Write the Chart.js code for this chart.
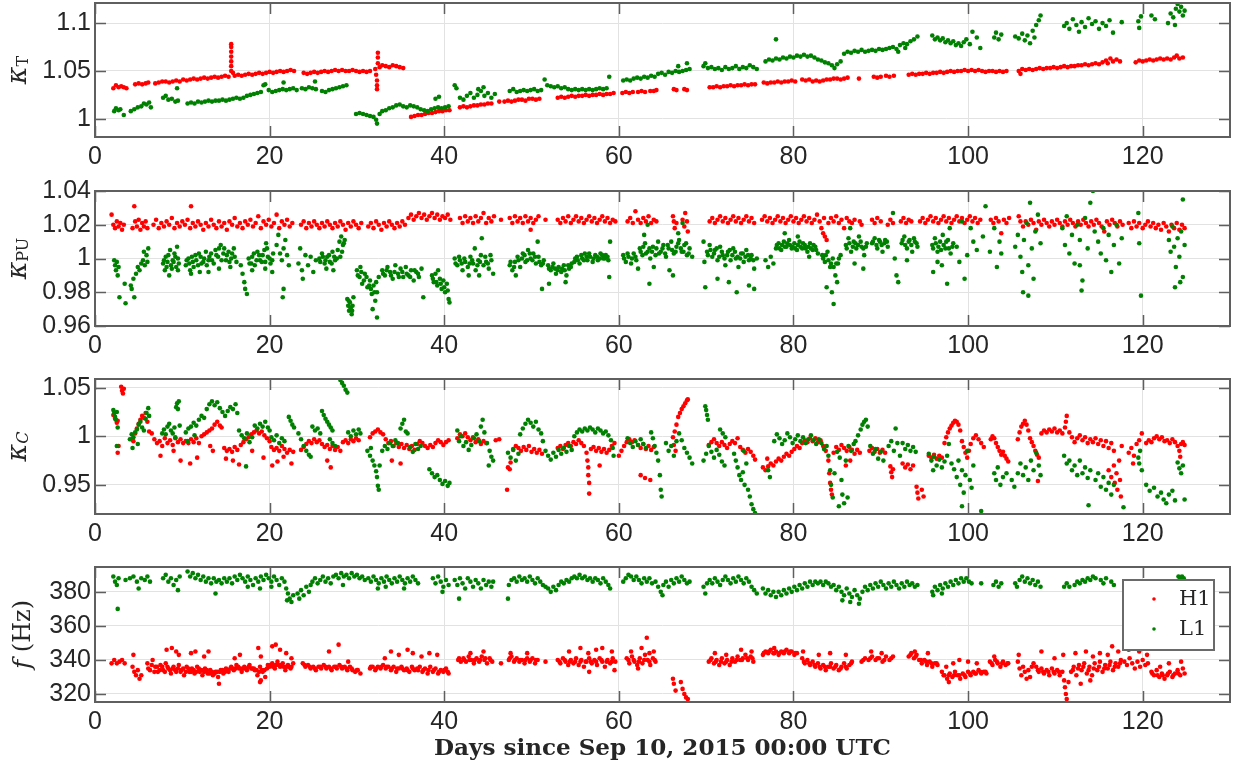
<!DOCTYPE html>
<html><head><meta charset="utf-8">
<script src="https://cdn.jsdelivr.net/npm/chart.js@4.4.1/dist/chart.umd.min.js"></script>
<style>
html,body{margin:0;padding:0;background:#fff;}
#wrap{position:relative;width:1239px;height:765px;overflow:hidden;background:#fff;}
canvas{position:absolute;left:0;}
</style></head><body>
<div id="wrap">
<canvas id="c1" width="1239" height="180" style="top:0px"></canvas>
<canvas id="c2" width="1239" height="190" style="top:180px"></canvas>
<canvas id="c3" width="1239" height="185" style="top:370px"></canvas>
<canvas id="c4" width="1239" height="210" style="top:555px"></canvas>
</div>
<script>
// ---------------- DATA ----------------
const seriesNames = ['H1', 'L1'];
const xTickVals = [0, 20, 40, 60, 80, 100, 120];
const xTickLabels = ['0', '20', '40', '60', '80', '100', '120'];
const X_TITLE = 'Days since Sep 10, 2015 00:00 UTC';

const kT_ticks = [1, 1.05, 1.1];
const kT_labels = ['1', '1.05', '1.1'];
const kPU_ticks = [0.96, 0.98, 1, 1.02, 1.04];
const kPU_labels = ['0.96', '0.98', '1', '1.02', '1.04'];
const kC_ticks = [0.95, 1, 1.05];
const kC_labels = ['0.95', '1', '1.05'];
const f_ticks = [320, 340, 360, 380];
const f_labels = ['320', '340', '360', '380'];

// kappa_T, H1 (red)
const kT_H1 = [
[2.1,1.032],[2.4,1.035],[2.7,1.033],[3.0,1.034],[3.3,1.033],[3.6,1.032],
[4.6,1.036],[5.0,1.037],[5.4,1.036],[5.8,1.037],[6.1,1.038],
[6.9,1.037],[7.3,1.038],[7.7,1.039],[8.1,1.039],[8.5,1.038],[8.9,1.039],[9.3,1.040],[9.7,1.039],
[10.1,1.041],[10.5,1.040],[10.9,1.041],[11.3,1.042],[11.7,1.041],[12.1,1.042],[12.5,1.043],[12.9,1.042],[13.3,1.043],[13.7,1.044],[14.1,1.043],[14.5,1.044],[14.9,1.045],[15.3,1.044],
[15.6,1.050],[15.6,1.055],[15.6,1.060],[15.6,1.065],[15.6,1.070],[15.6,1.075],[15.6,1.078],[15.8,1.048],
[16.0,1.045],[16.4,1.046],[16.8,1.045],[17.2,1.046],[17.6,1.047],[18.0,1.046],[18.4,1.047],[18.8,1.048],[19.2,1.047],[19.6,1.048],[20.0,1.049],
[20.4,1.048],[20.8,1.049],[21.2,1.050],[21.6,1.049],[22.0,1.050],[22.4,1.051],[22.8,1.050],
[23.9,1.048],[24.3,1.047],[24.7,1.048],[25.1,1.049],[25.5,1.048],[25.9,1.049],[26.3,1.050],[26.7,1.049],[27.1,1.050],[27.5,1.051],
[27.9,1.050],[28.3,1.051],[28.7,1.050],[29.1,1.050],[29.5,1.051],[29.9,1.050],[30.3,1.049],[30.7,1.050],[31.1,1.049],[31.5,1.050],
[32.2,1.046],[32.3,1.040],[32.3,1.035],[32.3,1.031],[32.4,1.058],[32.4,1.064],[32.4,1.069],[32.1,1.052],[32.6,1.054],
[32.9,1.056],[33.3,1.055],[33.7,1.054],[34.1,1.056],[34.5,1.055],[34.9,1.054],[35.3,1.053],
[36.2,1.002],[36.6,1.003],[37.0,1.004],[37.4,1.004],[37.8,1.005],[38.2,1.006],[38.6,1.006],[39.0,1.007],[39.4,1.008],[39.8,1.008],[40.2,1.009],[40.6,1.009],
[41.8,1.012],[42.2,1.013],[42.6,1.012],[43.0,1.013],[43.4,1.014],[43.8,1.014],[44.2,1.015],[44.6,1.015],[45.0,1.016],[45.4,1.016],[46.3,1.018],
[46.9,1.018],[47.3,1.019],[47.7,1.018],[48.1,1.019],[48.5,1.020],[48.9,1.020],[49.3,1.019],[49.7,1.021],[50.1,1.021],[50.5,1.020],[50.9,1.021],
[53.0,1.022],[53.4,1.023],[53.8,1.022],[54.2,1.023],[54.6,1.024],[55.0,1.023],[55.4,1.024],[55.8,1.024],[56.2,1.025],[56.6,1.024],[57.0,1.025],[57.4,1.025],[57.8,1.026],[58.2,1.025],[58.6,1.026],[59.0,1.026],[59.4,1.027],
[60.4,1.027],[60.8,1.028],[61.2,1.027],[61.6,1.028],[62.2,1.028],[62.6,1.029],[63.0,1.028],[63.6,1.029],[64.0,1.029],[64.3,1.030],
[66.3,1.031],[66.6,1.030],[67.5,1.031],[67.8,1.030],
[70.4,1.033],[70.8,1.033],[71.2,1.034],[71.6,1.033],[72.0,1.034],[72.4,1.034],[72.8,1.035],[73.2,1.034],[73.6,1.035],[74.0,1.035],[74.4,1.036],[74.8,1.035],[75.2,1.036],[75.6,1.036],
[76.6,1.038],[77.0,1.037],[77.4,1.038],[77.8,1.038],[78.2,1.039],[78.6,1.038],[79.0,1.039],[79.4,1.039],[79.8,1.040],[80.2,1.039],
[81.0,1.041],[81.4,1.040],[81.8,1.041],[82.2,1.039],[82.6,1.040],[83.0,1.039],[83.4,1.040],[83.8,1.041],[84.2,1.041],[84.6,1.042],[85.0,1.042],[85.4,1.041],[85.8,1.042],[86.2,1.043],[87.5,1.042],
[89.2,1.044],[89.6,1.043],[90.0,1.044],[90.6,1.045],[91.0,1.044],[91.5,1.045],
[93.2,1.046],[93.6,1.047],[94.0,1.046],[94.4,1.047],[94.8,1.047],[95.2,1.048],[95.6,1.047],[96.0,1.048],[96.4,1.048],[96.8,1.049],[97.2,1.048],[97.6,1.049],[98.0,1.050],[98.4,1.049],[98.8,1.050],[99.2,1.050],[99.6,1.051],[100.0,1.050],[100.4,1.051],[100.8,1.050],[101.2,1.051],[101.6,1.050],[102.0,1.049],[102.4,1.050],[102.8,1.050],[103.2,1.049],[103.6,1.050],[104.0,1.049],[104.4,1.050],
[105.8,1.050],[106.0,1.047],[106.2,1.052],[106.6,1.051],[107.0,1.052],[107.4,1.051],[107.8,1.052],[108.2,1.053],[108.6,1.052],[109.0,1.053],[109.4,1.053],[109.8,1.054],[110.2,1.053],[110.6,1.054],[111.0,1.055],[111.4,1.054],[111.8,1.055],[112.2,1.055],[112.6,1.056],[113.0,1.056],[113.4,1.057],[113.8,1.056],[114.2,1.057],[114.6,1.058],[115.0,1.057],
[115.4,1.059],[115.8,1.061],[116.0,1.058],[116.3,1.063],[116.6,1.060],[117.0,1.062],[117.4,1.060],
[119.2,1.059],[119.6,1.061],[120.0,1.060],[120.4,1.061],[120.8,1.062],[121.2,1.061],[121.6,1.062],[122.0,1.063],[122.4,1.062],[122.8,1.063],[123.2,1.062],[123.6,1.064],[123.9,1.066],[124.2,1.063],[124.6,1.064]
];

// kappa_T, L1 (green)
const kT_L1 = [
[2.2,1.008],[2.4,1.011],[2.7,1.009],[2.9,1.010],[3.3,1.004],
[4.1,1.008],[4.5,1.010],[4.9,1.012],[5.3,1.013],[5.6,1.016],[5.9,1.015],[6.2,1.017],[6.4,1.012],
[7.8,1.022],[8.1,1.024],[8.4,1.020],[8.8,1.021],[9.2,1.018],[9.5,1.019],[9.4,1.032],
[10.6,1.016],[11.0,1.017],[11.4,1.016],[11.8,1.018],[12.2,1.017],[12.6,1.018],[13.0,1.019],[13.4,1.018],[13.8,1.019],[14.2,1.019],[14.6,1.020],[15.0,1.019],[15.4,1.020],[15.8,1.021],
[16.2,1.022],[16.6,1.021],[17.0,1.022],[17.4,1.024],[17.8,1.025],[18.2,1.026],[18.6,1.027],[19.0,1.028],[19.3,1.035],[19.5,1.036],
[19.9,1.030],[20.3,1.028],[20.7,1.029],[21.1,1.030],[21.5,1.031],[21.9,1.030],[22.3,1.031],[22.7,1.032],[23.1,1.030],[21.6,1.038],
[23.7,1.032],[24.1,1.031],[24.5,1.033],[24.9,1.032],[25.3,1.031],[25.2,1.039],
[26.0,1.029],[26.4,1.028],[26.8,1.030],[27.2,1.031],[27.6,1.032],[28.0,1.033],[28.4,1.034],[28.8,1.035],
[29.9,1.005],[30.3,1.006],[30.7,1.005],[31.1,1.004],[31.5,1.003],[31.9,1.002],[32.2,0.999],[32.3,0.995],[32.6,1.005],
[32.9,1.008],[33.3,1.009],[33.7,1.011],[34.1,1.012],[34.5,1.014],[34.9,1.015],[35.3,1.013],[35.7,1.012],[36.1,1.014],[36.5,1.013],[36.9,1.012],
[37.3,1.010],[37.7,1.009],[38.1,1.008],[38.5,1.010],[38.9,1.011],[39.3,1.012],[39.7,1.011],[40.1,1.012],[40.5,1.013],[39.0,1.021],[39.4,1.023],
[41.2,1.035],[41.4,1.032],[41.8,1.022],[42.2,1.020],[42.6,1.024],[43.0,1.027],[43.4,1.022],[43.8,1.025],[44.2,1.029],[44.6,1.024],[45.0,1.027],[45.4,1.022],[45.8,1.026],[43.9,1.031],[44.5,1.033],
[47.5,1.029],[47.9,1.031],[48.3,1.028],[48.7,1.029],[49.1,1.030],[49.5,1.029],[49.9,1.030],[50.3,1.031],[50.7,1.029],[51.1,1.030],[51.5,1.041],[51.8,1.035],
[52.2,1.034],[52.6,1.033],[53.0,1.034],[53.4,1.032],[53.8,1.033],[54.2,1.031],[54.6,1.030],[55.0,1.031],[55.4,1.030],[55.8,1.031],[56.2,1.030],[56.6,1.031],[57.0,1.030],[57.4,1.031],[57.8,1.032],[58.2,1.031],[58.6,1.032],[58.9,1.044],
[60.5,1.040],[60.9,1.041],[61.3,1.040],[61.7,1.042],[62.1,1.043],[62.5,1.042],[62.9,1.044],[63.3,1.043],[63.7,1.045],[64.1,1.044],
[64.5,1.047],[64.9,1.048],[65.3,1.046],[65.7,1.049],[66.1,1.048],[66.5,1.050],[66.9,1.049],[67.3,1.050],[67.7,1.051],[68.1,1.052],[67.8,1.058],[66.8,1.055],
[69.7,1.055],[69.9,1.058],[70.2,1.053],[70.6,1.054],[71.0,1.052],[71.4,1.053],[71.8,1.051],[72.2,1.054],[72.6,1.052],[73.0,1.053],[73.4,1.055],[73.8,1.052],[74.2,1.054],[74.6,1.053],[75.0,1.056],[75.4,1.054],[75.8,1.052],
[78.0,1.083],
[76.8,1.060],[77.2,1.062],[77.6,1.061],[78.0,1.063],[78.4,1.062],[78.8,1.064],[79.2,1.063],[79.6,1.065],[80.0,1.064],[80.4,1.066],[80.8,1.065],[81.2,1.067],[81.6,1.065],[82.0,1.066],[82.4,1.064],
[82.8,1.062],[83.2,1.061],[83.6,1.059],[84.0,1.058],[84.4,1.056],[84.7,1.053],[85.0,1.057],[85.4,1.060],
[85.8,1.068],[86.2,1.070],[86.6,1.069],[87.0,1.071],[87.4,1.070],[87.8,1.072],[88.2,1.070],[88.6,1.071],[89.0,1.072],[89.4,1.071],[89.8,1.073],[90.2,1.072],[90.6,1.073],[91.0,1.074],[91.4,1.075],[91.8,1.073],[92.2,1.077],[92.6,1.079],[93.0,1.078],[93.4,1.081],[93.8,1.083],[94.2,1.086],[92.0,1.070],[92.8,1.074],
[95.9,1.087],[96.2,1.083],[96.5,1.085],[96.8,1.082],[97.1,1.084],[97.4,1.080],[97.7,1.082],[98.0,1.079],[98.3,1.081],[98.6,1.077],[98.9,1.079],[99.2,1.076],[99.5,1.080],[99.8,1.083],[100.2,1.078],[100.5,1.091],[101.0,1.085],[101.4,1.074],
[103.0,1.085],[103.2,1.090],[103.5,1.083],[103.8,1.088],[105.4,1.086],[105.8,1.084],[106.2,1.089],[106.5,1.082],[106.8,1.087],[107.1,1.079],[107.4,1.092],[107.8,1.098],[108.1,1.103],[108.3,1.108],[107.6,1.085],
[111.0,1.097],[111.3,1.100],[111.6,1.094],[112.0,1.104],[112.4,1.098],[112.7,1.091],[113.0,1.101],[113.4,1.096],[113.8,1.105],[114.2,1.099],[114.6,1.102],[115.0,1.094],[115.4,1.100],[115.8,1.097],[116.2,1.103],[116.6,1.090],[117.6,1.101],
[119.5,1.102],[119.6,1.095],[119.8,1.107],[121.0,1.108],[121.4,1.104],[122.9,1.100],[123.2,1.110],[123.5,1.106],[123.8,1.115],[124.0,1.120],[124.2,1.112],[124.4,1.117],[124.6,1.108],[124.8,1.113],[123.7,1.098]
];

// kappa_PU, H1 (red)
const kPU_H1 = [
[1.9,1.026],[2.1,1.020],[2.3,1.018],[2.5,1.022],[2.7,1.019],[2.9,1.021],[3.1,1.017],[3.3,1.020],
[4.3,1.018],[4.5,1.031],[4.6,1.022],[4.8,1.019],[5.0,1.023],[5.2,1.017],[5.4,1.021],[5.6,1.019],[5.8,1.022],[6.0,1.018],
[6.7,1.020],[7.0,1.023],[7.3,1.018],[7.6,1.021],[7.9,1.019],[8.2,1.022],[8.5,1.020],[8.8,1.024],[9.1,1.018],[9.4,1.021],[9.7,1.019],[10.0,1.022],[10.3,1.020],[10.6,1.023],[10.9,1.018],[11.0,1.031],[11.2,1.021],[11.5,1.019],[11.8,1.022],[12.1,1.020],[12.4,1.017],[12.7,1.021],[13.0,1.019],[13.3,1.023],[13.6,1.020],[13.9,1.018],[14.2,1.022],[14.5,1.019],[14.8,1.021],[15.1,1.017],[15.4,1.022],[15.7,1.020],[16.0,1.024],[16.3,1.019],[16.6,1.021],[16.9,1.018],[17.2,1.022],[17.5,1.020],[17.8,1.023],[18.1,1.019],[18.4,1.021],[18.7,1.025],[19.0,1.018],[19.3,1.022],[19.6,1.020],[19.9,1.023],[20.2,1.019],[20.5,1.021],[20.8,1.026],[21.1,1.018],[21.4,1.022],[21.7,1.020],[22.0,1.023],[22.3,1.019],[22.6,1.021],
[23.6,1.020],[23.9,1.022],[24.2,1.018],[24.5,1.021],[24.8,1.019],[25.1,1.022],[25.4,1.020],[25.7,1.018],[26.0,1.021],[26.3,1.019],[26.6,1.022],[26.9,1.020],[27.2,1.018],[27.5,1.021],[27.8,1.019],[28.1,1.022],[28.4,1.020],[28.7,1.017],[29.0,1.021],[29.3,1.019],[29.6,1.022],[29.9,1.020],[30.2,1.018],[30.5,1.021],[31.3,1.019],[31.6,1.021],[31.9,1.018],[32.2,1.022],[32.5,1.020],[32.8,1.017],[33.1,1.021],[33.4,1.019],[33.7,1.022],[34.0,1.020],[34.3,1.018],[34.6,1.021],[34.9,1.019],[35.2,1.022],[35.5,1.020],
[35.9,1.024],[36.2,1.026],[36.5,1.023],[36.8,1.025],[37.1,1.027],[37.4,1.024],[37.7,1.026],[38.0,1.023],[38.3,1.025],[38.6,1.027],[38.9,1.024],[39.2,1.026],[39.5,1.023],[39.8,1.025],[40.1,1.024],[40.4,1.026],[40.7,1.023],
[41.8,1.024],[42.1,1.021],[42.4,1.025],[42.7,1.022],[43.0,1.024],[43.3,1.021],[43.6,1.025],[43.9,1.022],[44.2,1.024],[44.5,1.027],[44.8,1.021],[45.1,1.024],[45.4,1.022],[45.7,1.025],[46.5,1.023],
[47.5,1.024],[47.8,1.021],[48.1,1.025],[48.4,1.022],[48.7,1.024],[49.0,1.021],[49.3,1.025],[49.6,1.022],[49.9,1.024],[50.2,1.021],[50.5,1.023],[50.8,1.025],[49.9,1.017],[51.6,1.023],
[53.0,1.023],[53.3,1.021],[53.6,1.024],[53.9,1.022],[54.2,1.025],[54.5,1.021],[54.8,1.023],[55.1,1.025],[55.4,1.022],[55.7,1.024],[56.0,1.021],[56.3,1.023],[56.6,1.025],[56.9,1.022],[57.2,1.024],[57.5,1.021],[57.8,1.023],[58.1,1.025],[58.4,1.022],[58.7,1.024],[59.0,1.021],[59.3,1.023],[59.6,1.022],
[61.0,1.022],[61.3,1.024],[61.6,1.021],[61.9,1.028],[62.2,1.023],[62.5,1.021],[62.8,1.024],[63.1,1.022],[63.4,1.025],[63.7,1.021],[64.0,1.023],[64.3,1.022],
[66.2,1.025],[66.3,1.022],[66.4,1.018],[66.6,1.021],[67.3,1.023],[67.5,1.019],[67.6,1.027],[67.8,1.022],[67.9,1.016],
[70.4,1.022],[70.7,1.024],[71.0,1.021],[71.3,1.023],[71.6,1.025],[71.9,1.022],[72.2,1.024],[72.5,1.021],[72.8,1.023],[73.1,1.025],[73.4,1.022],[73.7,1.024],[74.0,1.021],[74.3,1.023],[74.6,1.025],[74.9,1.022],[75.2,1.024],[75.5,1.021],[76.4,1.023],[76.7,1.025],[77.0,1.022],[77.3,1.024],[77.6,1.021],[77.9,1.023],[78.2,1.025],[78.5,1.022],[78.8,1.024],[79.1,1.021],[79.4,1.023],[79.7,1.025],[80.0,1.022],[80.3,1.024],[80.6,1.021],[80.9,1.023],[81.2,1.025],[81.5,1.022],[81.8,1.024],[82.1,1.021],[82.4,1.023],
[82.7,1.026],[83.0,1.022],[83.2,1.018],[83.4,1.015],[83.6,1.013],[83.8,1.011],[83.5,1.024],[84.0,1.021],[84.3,1.024],[84.6,1.022],[84.9,1.025],[85.2,1.021],[85.5,1.023],[85.8,1.018],[86.1,1.024],[86.4,1.022],[86.7,1.021],[87.0,1.023],[87.6,1.022],[87.8,1.020],
[89.0,1.023],[89.3,1.021],[89.6,1.024],[90.0,1.022],[90.8,1.020],[91.1,1.023],[91.4,1.021],[92.3,1.022],[92.6,1.024],[92.9,1.021],[93.2,1.023],[93.5,1.022],
[94.5,1.022],[94.8,1.024],[95.1,1.021],[95.4,1.023],[95.7,1.025],[96.0,1.022],[96.3,1.024],[96.6,1.021],[96.9,1.023],[97.2,1.025],[97.5,1.022],[97.8,1.024],[98.1,1.021],[98.4,1.023],[98.7,1.025],[99.0,1.022],[99.3,1.024],[99.6,1.021],[99.9,1.023],[100.2,1.025],[100.5,1.022],[100.8,1.024],[101.1,1.021],[101.4,1.023],[102.6,1.023],[102.9,1.021],[103.2,1.024],[103.5,1.022],[103.8,1.015],[104.1,1.023],[104.4,1.021],[104.7,1.024],
[105.8,1.025],[106.0,1.022],[106.3,1.019],[106.6,1.022],[106.9,1.020],[107.2,1.023],[107.5,1.021],[107.8,1.017],[108.1,1.022],[108.4,1.020],[108.7,1.023],[109.0,1.021],[109.3,1.019],[109.6,1.022],[109.9,1.020],[110.2,1.023],[110.5,1.021],[110.8,1.019],[111.1,1.022],[111.4,1.020],[111.7,1.023],[112.0,1.021],[112.3,1.019],[112.6,1.022],[112.9,1.020],[113.2,1.023],[113.5,1.021],[113.8,1.019],[114.1,1.022],[114.4,1.020],[114.7,1.023],[115.0,1.021],[115.3,1.019],[115.6,1.016],[115.9,1.022],[116.2,1.020],[116.5,1.023],[116.8,1.021],[117.1,1.019],[117.4,1.022],[117.7,1.020],
[118.4,1.021],[118.7,1.018],[119.0,1.022],[119.3,1.019],[119.6,1.021],[120.0,1.018],[120.3,1.020],[120.6,1.022],[120.9,1.019],[121.2,1.021],[121.5,1.018],[121.8,1.020],[122.1,1.017],[122.4,1.021],[122.7,1.019],[123.0,1.016],[123.3,1.020],[123.6,1.018],[123.9,1.021],[124.2,1.017],[124.5,1.020],[124.8,1.018]
];

// kappa_PU, L1 (green)
const kPU_L1 = [
[2.2,0.999],[2.3,0.996],[2.4,0.993],[2.5,0.998],[2.6,0.990],[2.7,0.995],[2.8,0.977],[3.5,0.9735],[3.4,0.985],
[4.1,0.984],[4.2,0.982],[4.4,0.988],[4.5,0.977],[4.7,0.991],[4.9,0.995],[5.1,0.993],[5.3,0.997],[5.5,0.999],[5.7,0.996],[5.9,1.002],[6.0,0.998],[6.1,1.006],[5.6,1.004],
[7.8,0.997],[8.0,0.993],[8.1,1.001],[8.3,0.998],[8.5,0.990],[8.7,0.996],[8.9,0.999],[9.1,1.003],[9.3,0.995],[9.5,1.000],[9.6,0.997],[8.6,1.005],[9.4,1.007],
[10.4,0.996],[10.7,1.000],[10.9,0.993],[11.2,0.998],[11.5,1.002],[11.8,0.996],[12.1,1.001],[12.4,0.998],[12.7,1.004],[13.0,0.999],[13.3,1.003],[13.6,0.997],[11.0,0.991],[12.0,0.992],[13.0,0.992],
[13.8,1.005],[14.1,1.001],[14.4,1.008],[14.7,1.003],[15.0,0.999],[15.3,1.004],[15.6,1.000],[15.9,1.006],[16.2,0.998],[14.2,0.994],[15.5,0.995],
[16.7,0.996],[16.9,0.991],[17.1,0.986],[17.2,0.982],[17.4,0.979],
[17.6,1.000],[17.9,0.997],[18.2,1.003],[18.5,0.999],[18.8,1.002],[19.1,0.998],[19.4,1.005],[19.6,1.009],[19.8,1.001],[20.1,0.997],[20.4,1.003],[18.0,0.993],[19.5,0.994],[20.3,0.992],
[20.8,1.008],[21.0,1.014],[21.2,1.003],[21.4,0.999],[21.6,1.006],[21.8,1.011],[22.0,1.002],[22.2,0.996],[21.5,0.977],[21.6,0.982],
[23.3,0.997],[23.5,1.006],[23.7,0.993],[23.8,0.988],
[24.1,1.002],[24.4,0.996],[24.7,1.001],[25.0,0.992],[25.3,0.999],
[25.7,1.000],[26.0,1.003],[26.3,0.997],[26.6,1.001],[26.9,0.998],[27.2,1.004],[27.5,0.999],[26.5,0.994],[27.3,0.993],
[27.8,1.005],[28.0,1.010],[28.2,1.013],[28.4,1.008],[28.6,1.011],[28.1,1.001],
[28.9,0.976],[29.0,0.972],[29.1,0.969],[29.2,0.974],[29.3,0.970],[29.4,0.967],[29.5,0.972],[29.6,0.977],
[30.0,0.993],[30.3,0.989],[30.6,0.985],[30.9,0.991],[31.2,0.983],[31.5,0.987],[31.7,0.979],[31.9,0.984],[32.1,0.975],[32.3,0.980],[32.5,0.989],[31.8,0.970],[32.3,0.965],[30.4,0.995],
[32.9,0.993],[33.2,0.990],[33.5,0.995],[33.8,0.992],[34.1,0.988],[34.4,0.996],[34.7,0.991],[35.0,0.994],[35.3,0.989],[35.6,0.995],[35.9,0.990],[36.2,0.993],[36.5,0.987],[36.8,0.992],[37.1,0.989],[37.4,0.994],[37.6,0.977],
[38.6,0.990],[38.8,0.986],[39.0,0.991],[39.2,0.984],[39.5,0.988],[39.7,0.982],[39.9,0.987],[40.1,0.980],[40.3,0.985],[40.5,0.976],[40.6,0.974],[39.3,0.993],
[41.2,1.000],[41.5,0.996],[41.8,0.999],[42.1,0.993],[42.4,0.998],[42.7,0.995],[43.0,1.001],[43.3,0.997],[43.6,0.993],[43.9,0.999],[44.2,1.002],[44.5,0.996],[44.8,0.998],[45.1,0.994],[45.4,0.999],[45.6,0.991],[44.3,1.012],[43.5,1.006],[42.8,0.990],[44.0,0.990],
[47.5,0.996],[47.8,0.993],[48.1,0.998],[48.4,1.001],[48.7,0.995],[49.0,1.003],[49.3,0.998],[49.6,1.005],[49.9,1.000],[50.2,1.003],[50.5,0.997],[50.8,1.001],[51.1,0.996],[51.4,0.999],[50.7,1.010],[51.2,0.982],[48.2,0.990],
[51.9,0.996],[52.2,0.993],[52.5,0.997],[52.8,0.991],[53.1,0.995],[53.4,0.992],[53.7,0.996],[54.0,0.990],[54.3,0.994],[54.6,0.997],[52.0,0.985],[53.9,0.986],
[54.9,0.998],[55.2,1.001],[55.5,0.997],[55.8,1.000],[56.1,1.003],[56.4,0.999],[56.7,1.001],[57.0,0.998],[57.3,1.002],[57.6,0.999],[57.9,1.003],[58.2,1.000],[58.5,1.002],[58.8,0.999],[59.0,1.010],[58.9,0.989],
[60.5,1.002],[60.8,0.998],[61.1,1.001],[61.4,0.997],[61.7,1.003],[62.0,0.999],[62.2,0.994],
[62.4,1.006],[62.7,1.002],[63.0,1.009],[63.3,1.004],[63.6,1.000],[63.9,1.007],[64.2,1.002],[64.5,1.010],[62.9,1.014],[63.3,1.020],[64.0,0.995],[63.5,0.985],
[64.8,1.004],[65.1,1.008],[65.4,1.001],[65.7,1.006],[66.0,1.010],[66.3,1.003],[66.6,1.007],[66.9,1.011],[67.2,1.004],[67.5,1.008],[67.8,1.002],[68.1,1.006],[68.4,1.001],[67.3,1.021],[66.8,1.015],[65.8,0.993],[66.2,0.990],
[69.7,1.010],[69.8,0.998],[69.9,0.983],[70.1,1.004],[70.4,1.008],[70.7,1.001],[71.0,1.005],[71.3,0.999],[71.6,1.007],[71.9,1.002],[72.2,0.996],[72.5,1.004],[72.8,0.999],[73.1,1.006],[73.4,1.000],[73.7,0.995],[74.0,1.003],[74.3,0.998],[74.6,1.005],[74.9,0.999],[75.2,1.002],[75.5,0.994],[75.8,1.000],[71.3,0.988],[72.6,0.986],[73.5,0.980],[74.9,0.984],[75.5,0.982],
[76.8,0.999],[77.1,0.995],[77.4,1.001],[77.7,0.997],
[78.0,1.006],[78.3,1.009],[78.6,1.005],[78.9,1.010],[79.2,1.007],[79.5,1.011],[79.8,1.006],[80.1,1.009],[80.4,1.005],[80.7,1.010],[81.0,1.006],[81.3,1.008],[81.6,1.004],[81.9,1.009],[82.2,1.005],[82.5,1.007],[82.8,1.003],[79.0,1.015],[80.5,1.013],[81.8,1.001],
[83.3,1.002],[83.6,0.998],[83.9,1.004],[84.2,0.995],[84.5,1.000],[84.8,0.990],[85.1,0.997],[85.4,1.002],[83.8,0.983],[84.4,0.980],[84.6,0.973],[85.0,0.986],
[86.0,1.008],[86.3,1.012],[86.6,1.004],[86.9,1.010],[87.2,1.006],[87.5,1.013],[87.8,1.007],[88.1,1.002],[88.4,1.009],[87.0,0.997],[88.0,0.994],[86.5,1.018],
[89.0,1.009],[89.3,1.012],[89.6,1.006],[89.9,1.010],[90.2,1.004],[90.5,1.011],[90.8,1.007],
[91.4,1.027],[91.6,1.000],[91.8,0.990],[92.0,0.986],
[92.4,1.009],[92.7,1.013],[93.0,1.006],[93.3,1.011],[93.6,1.004],[93.9,1.010],[94.2,1.007],[93.0,0.999],
[95.9,1.008],[96.2,1.012],[96.5,1.004],[96.8,1.010],[97.1,1.014],[97.4,1.006],[97.7,1.011],[98.0,1.003],[98.3,1.009],[96.0,0.992],[97.0,0.996],[97.6,0.985],[96.5,0.998],[97.9,1.018],
[98.7,1.007],[99.0,0.998],[99.3,1.022],[99.6,0.988],[99.9,1.002],[100.3,1.018],[100.6,1.010],[101.0,1.005],
[101.7,1.013],[102.0,1.031],[102.5,1.004],[103.0,1.018],[103.3,0.995],[103.6,1.010],[103.8,1.003],
[105.4,1.007],[105.7,1.014],[106.0,1.001],[106.2,0.992],[106.4,1.011],[106.7,1.021],[106.9,0.996],[107.1,1.033],[107.3,1.006],[107.5,0.988],[107.7,1.016],[108.0,1.026],[108.3,1.009],[108.6,1.041],[106.3,0.980],[106.9,0.978],
[110.8,1.018],[111.1,1.008],[111.3,1.025],[111.6,1.003],[111.9,1.014],[112.2,0.997],[112.5,1.020],[112.8,1.011],[113.1,0.987],[113.4,1.024],[113.7,1.006],[114.0,1.033],[114.3,1.040],[114.5,1.016],[112.8,0.996],[113.0,0.981],
[114.9,1.010],[115.2,1.003],[115.5,1.018],[115.8,0.999],[116.1,1.014],[116.4,0.992],[116.7,1.008],[117.0,1.020],[117.3,0.997],[117.6,1.012],
[119.5,1.027],[119.6,1.009],[119.8,0.978],
[123.0,1.011],[123.2,1.004],[123.4,1.019],[123.6,1.007],[123.8,0.995],[124.0,1.012],[124.2,1.001],[124.4,1.016],[124.6,1.035],[124.8,1.008],[124.3,0.986],[124.6,0.989],[123.7,0.983],
[7.9,0.999],[8.2,0.995],[8.4,1.002],[8.8,0.994],[9.0,0.998],[9.2,1.001],[9.5,0.993],
[10.5,0.999],[10.8,0.997],[11.1,1.001],[11.3,0.995],[11.6,0.999],[11.9,1.003],[12.2,0.997],[12.5,1.000],[12.8,0.996],[13.1,1.001],[13.4,0.999],
[13.9,1.002],[14.2,1.006],[14.5,0.999],[14.8,1.006],[15.1,1.002],[15.4,0.998],[15.7,1.003],[16.0,1.001],
[17.7,0.997],[18.0,1.001],[18.3,0.996],[18.6,1.004],[18.9,0.999],[19.2,1.002],[19.5,0.998],[19.7,1.006],[20.0,1.000],[20.3,0.999],
[25.8,0.998],[26.1,1.001],[26.4,0.999],[26.8,1.002],[27.1,0.997],[27.4,1.001],[27.7,1.000],[28.3,1.004],[28.5,1.009],
[29.05,0.975],[29.25,0.971],[29.45,0.969],
[30.1,0.990],[30.5,0.992],[30.8,0.987],[31.1,0.989],[31.4,0.984],[31.6,0.982],[32.0,0.980],[32.2,0.986],
[33.0,0.991],[33.4,0.993],[33.9,0.990],[34.3,0.992],[34.8,0.989],[35.2,0.992],[35.7,0.991],[36.1,0.989],[36.6,0.993],[37.0,0.991],
[38.7,0.988],[39.1,0.986],[39.6,0.985],[40.0,0.983],[40.4,0.981],
[41.3,0.997],[41.7,1.001],[42.0,0.997],[42.3,1.000],[42.9,0.997],[43.2,0.999],[43.8,0.996],[44.1,0.998],[44.7,1.001],[45.0,0.997],[45.3,1.002],
[47.6,0.998],[48.0,0.995],[48.5,0.999],[48.9,1.000],[49.2,1.002],[49.5,0.999],[49.8,1.003],[50.1,0.999],[50.4,1.001],[50.9,0.998],[51.3,0.997],
[52.0,0.994],[52.4,0.995],[52.7,0.994],[53.0,0.993],[53.5,0.994],[53.8,0.993],[54.2,0.996],[54.5,0.995],
[55.0,1.000],[55.3,0.999],[55.7,1.002],[56.0,0.999],[56.3,1.001],[56.6,1.003],[57.1,1.000],[57.5,1.001],[57.8,1.000],[58.1,1.002],[58.4,1.000],[58.7,1.001],
[60.6,1.000],[61.0,1.003],[61.5,1.000],[61.9,1.001],[62.5,1.004],[62.8,1.007],[63.1,1.003],[63.5,1.006],[63.8,1.004],[64.3,1.006],[64.6,1.003],[65.0,1.006],[65.3,1.003],[65.6,1.008],[66.1,1.005],[66.5,1.004],[66.8,1.009],[67.1,1.006],[67.4,1.004],[67.7,1.009],[68.0,1.003],
[70.2,1.002],[70.5,1.005],[70.9,1.003],[71.2,1.006],[71.5,1.001],[71.8,1.004],[72.1,1.000],[72.4,1.002],[72.7,1.005],[73.0,1.002],[73.3,1.004],[73.6,1.001],[73.9,1.000],[74.2,1.003],[74.5,1.001],[74.8,1.002],[75.1,1.000],[75.4,0.999],
[78.1,1.008],[78.4,1.006],[78.7,1.008],[79.0,1.007],[79.3,1.009],[79.6,1.008],[79.9,1.007],[80.2,1.006],[80.5,1.008],[80.8,1.007],[81.1,1.009],[81.4,1.006],[81.7,1.007],[82.0,1.006],[82.3,1.008],[82.6,1.005],
[83.4,1.000],[83.7,1.002],[84.0,0.999],[84.3,0.997],[84.6,0.995],[84.9,0.997],[85.2,1.000],
[86.1,1.006],[86.4,1.009],[86.8,1.007],[87.1,1.009],[87.4,1.008],[87.7,1.010],[88.0,1.006],[88.3,1.007],
[89.1,1.010],[89.5,1.008],[89.8,1.011],[90.1,1.008],[90.4,1.009],[90.7,1.010],
[92.5,1.011],[92.8,1.008],[93.2,1.010],[93.5,1.008],[93.8,1.012],[94.1,1.009],
[96.0,1.006],[96.3,1.009],[96.6,1.007],[96.9,1.005],[97.2,1.008],[97.5,1.010],[97.8,1.006],[98.2,1.007]
];

// kappa_C, H1 (red)
const kC_H1 = [
[2.1,1.022],[2.3,1.018],[2.5,1.014],[2.6,1.016],[2.7,0.990],[2.6,0.983],
[3.0,1.051],[3.1,1.047],[3.2,1.044],[3.3,1.049],
[4.2,0.997],[4.4,0.995],[4.6,1.003],[4.8,1.008],[5.0,1.013],[5.2,1.017],[5.4,1.021],[5.6,1.019],[5.8,1.024],[6.0,1.015],
[6.2,1.005],[6.5,1.003],[6.8,0.997],[7.1,0.993],[7.4,0.995],[7.7,0.990],[8.0,0.998],[8.3,0.993],[8.6,0.996],[8.9,0.991],[9.2,0.998],[9.5,0.994],[9.8,0.997],[10.1,0.993],[7.5,0.980],[9.0,0.985],[9.8,0.975],
[10.4,0.995],[10.7,0.993],[11.0,0.997],[11.3,0.994],[11.6,0.998],[11.9,0.993],[12.2,1.000],[10.9,0.972],[11.7,0.978],
[12.5,1.002],[12.8,1.004],[13.1,1.006],[13.4,1.008],[13.7,1.012],[14.0,1.015],[14.3,1.011],[14.5,1.009],[13.2,0.990],[13.5,0.985],
[14.8,0.988],[15.1,0.985],[15.4,0.987],[15.7,0.984],[16.0,0.989],[16.3,0.986],[15.0,0.977],[15.8,0.975],[16.5,0.971],
[16.7,0.991],[17.0,0.994],[17.3,0.997],[17.6,0.999],[17.9,1.002],[18.2,1.004],[18.5,1.006],[18.8,1.003],[19.1,1.005],[19.4,1.001],[19.7,0.998],[20.0,0.995],[18.0,0.985],[19.3,0.978],
[20.2,0.989],[20.5,0.986],[20.8,0.988],[21.1,0.985],[21.4,0.990],[21.7,0.987],[22.0,0.983],[22.3,0.986],[22.7,0.984],[20.3,0.970],[20.9,0.974],[21.6,0.979],[22.5,0.972],
[23.6,0.986],[23.9,0.989],[24.2,0.992],[24.5,0.995],[24.8,0.993],[25.1,0.997],[25.4,0.994],[25.7,0.996],
[26.0,0.992],[26.3,0.989],[26.6,0.991],[26.9,0.987],[27.2,0.990],[27.5,0.986],[27.8,0.989],[28.1,0.985],[27.0,0.968],[26.6,0.975],
[28.4,0.994],[28.7,0.996],[29.0,0.993],[29.3,0.997],[29.6,0.995],[29.9,0.998],[30.2,0.996],
[31.5,0.999],[31.8,1.003],[32.1,1.005],[32.4,1.007],[32.7,1.004],[33.0,1.002],
[33.3,0.997],[33.6,0.993],[33.9,0.995],[34.2,0.990],[34.5,0.993],[34.8,0.989],[35.1,0.992],[35.4,0.988],[35.7,0.991],[36.0,0.987],[36.3,0.990],[36.6,0.986],[34.0,0.975],[35.0,0.972],
[36.9,0.992],[37.2,0.995],[37.5,0.993],[37.8,0.990],[38.1,0.988],[38.4,0.991],[38.7,0.989],[39.0,0.993],[39.3,0.996],[39.6,0.994],[39.9,0.991],[40.2,0.994],[40.5,0.996],
[41.5,0.998],[41.8,1.002],[42.1,1.000],[42.4,1.003],[42.7,0.999],[43.0,0.996],[43.3,0.999],[43.6,0.994],[43.9,0.997],[44.2,0.992],[44.5,0.995],[44.8,0.993],
[45.9,0.996],[46.3,0.997],
[47.3,0.968],[47.5,0.966],[47.6,0.973],[47.2,0.945],
[47.9,0.986],[48.2,0.990],[48.5,0.988],[48.8,0.985],[49.1,0.989],[49.4,0.986],[49.7,0.990],[50.0,0.984],[50.3,0.987],[50.6,0.983],[50.9,0.986],[51.2,0.982],
[53.0,0.988],[53.3,0.990],[53.6,0.987],[53.9,0.991],[54.2,0.993],[54.5,0.990],[54.8,0.994],[55.1,0.992],[55.4,0.996],[55.7,0.993],[56.0,0.990],
[56.3,0.983],[56.4,0.975],[56.5,0.968],[56.5,0.960],[56.6,0.952],[56.6,0.941],[56.8,0.987],
[57.1,0.989],[57.4,0.985],[57.7,0.988],[58.0,0.984],[58.3,0.987],[58.6,0.983],[58.9,0.986],[59.2,0.990],[59.5,0.993],[57.8,0.970],
[60.0,0.980],[60.3,0.985],[60.6,0.990],[60.9,0.994],[61.2,0.997],[61.5,0.994],[61.8,0.996],
[62.2,0.991],[62.5,0.988],[62.8,0.992],[63.1,0.987],[63.4,0.990],[63.7,0.986],[64.0,0.989],[62.5,0.960],[63.0,0.957],[63.6,0.955],
[66.2,0.999],[66.4,1.005],[66.6,1.012],[66.8,1.020],[67.0,1.024],[67.2,1.028],[67.4,1.031],[67.6,1.034],[67.8,1.037],[67.9,1.038],[66.5,0.985],[66.3,0.991],
[70.3,0.991],[70.6,0.994],[70.9,0.997],[71.2,0.993],[71.5,0.990],[71.8,0.994],[72.1,0.991],[72.4,0.988],[72.7,0.992],[73.0,0.995],[73.3,0.993],[73.6,0.998],[73.9,0.989],[74.2,0.986],[74.5,0.983],[74.8,0.987],[75.1,0.984],[75.4,0.980],[75.6,0.976],
[76.5,0.968],[76.8,0.965],[77.1,0.969],[77.4,0.972],[77.7,0.970],[78.0,0.974],[78.3,0.977],[78.6,0.975],[78.9,0.979],[79.2,0.982],[79.5,0.980],[79.8,0.984],[80.1,0.987],[80.4,0.990],[80.7,0.988],[77.0,0.977],
[81.0,0.993],[81.3,0.996],[81.6,0.994],[81.9,0.998],[82.2,0.995],[82.5,0.998],[82.8,0.994],[83.1,0.996],
[83.4,0.990],[83.7,0.985],[84.0,0.975],[84.1,0.962],[84.2,0.952],[84.3,0.945],[84.4,0.940],[84.6,0.983],[84.9,0.989],[85.2,0.986],[85.5,0.991],[85.8,0.988],[86.1,0.985],[86.4,0.989],[86.7,0.986],[87.0,0.982],[87.3,0.986],[87.6,0.983],[86.0,0.970],[86.5,0.975],
[88.7,0.985],[89.0,0.988],[89.3,0.984],[89.6,0.987],[89.9,0.983],[90.2,0.986],[90.5,0.983],
[91.1,0.969],[91.2,0.963],[91.3,0.958],[91.4,0.966],
[92.5,0.972],[92.8,0.968],[93.1,0.971],[93.4,0.966],[93.7,0.970],
[94.1,0.948],[94.2,0.942],[94.3,0.936],[94.7,0.945],[94.9,0.938],
[95.5,0.980],[95.8,0.978],[96.1,0.981],[96.4,0.977],[96.7,0.980],[97.0,0.978],
[97.3,0.993],[97.5,0.999],[97.7,1.004],[97.9,1.008],[98.1,1.011],[98.3,1.014],[98.5,1.016],[98.7,1.015],[98.9,1.012],[99.1,1.006],
[99.3,0.995],[99.5,0.989],[99.7,0.983],[99.9,0.978],[100.1,0.985],[100.3,0.992],[100.6,0.998],[100.9,1.001],[101.2,0.997],[101.5,0.993],[101.8,0.989],
[102.6,0.997],[102.8,1.000],[103.0,0.998],[103.2,0.993],[103.4,0.989],[103.6,0.985],[103.8,0.981],[104.0,0.984],[104.2,0.980],[104.4,0.977],[104.6,0.974],
[105.7,0.997],[105.9,1.004],[106.1,1.010],[106.3,1.013],[106.5,1.016],[106.7,1.012],[106.9,1.006],
[107.1,0.998],[107.3,0.994],[107.5,0.990],[107.7,0.985],[107.9,0.981],[108.1,0.978],[108.0,0.954],
[108.4,1.003],[108.7,1.006],[109.0,1.004],[109.3,1.007],[109.6,1.005],[109.9,1.008],[110.2,1.004],[110.5,1.006],[110.8,1.003],[111.1,1.009],[111.3,1.021],[111.2,1.015],
[111.6,1.004],[111.9,0.999],[112.2,0.994],[112.5,0.998],[112.8,1.001],[113.1,0.996],[113.4,0.999],[113.7,0.993],[114.0,0.997],[114.3,0.994],[114.6,0.998],[114.9,0.992],[115.2,0.996],[115.5,0.990],[115.8,0.995],[116.1,0.988],[116.4,0.993],[116.7,0.985],
[116.1,0.965],[116.4,0.958],[116.7,0.970],[116.8,0.952],[117.0,0.962],[117.1,0.945],[117.3,0.975],[117.4,0.955],[117.5,0.938],[117.6,0.990],
[118.4,0.983],[118.7,0.988],[119.0,0.980],[119.3,0.992],[119.6,0.996],[119.9,1.003],[118.9,0.972],
[120.4,0.993],[120.7,0.996],[121.0,0.994],[121.3,0.998],[121.6,1.000],[121.9,0.997],[122.2,0.999],[122.5,0.995],
[122.8,0.996],[123.1,0.993],[123.4,0.997],[123.7,0.994],[124.0,0.990],[124.2,0.985],[124.4,0.992],[124.6,0.994],[124.8,0.991],[124.3,0.979]
];

// kappa_C, L1 (green)
const kC_L1 = [
[2.1,1.027],[2.2,1.024],[2.3,1.020],[2.4,1.017],[2.5,1.025],[2.6,1.009],[2.5,0.990],
[4.0,0.997],[4.2,1.002],[4.4,0.999],[4.6,1.004],[4.8,1.007],[4.9,0.992],[5.0,1.012],[5.2,1.015],[5.4,1.009],[5.6,1.006],[5.8,1.018],[5.9,1.024],[6.1,1.029],[6.2,1.021],[4.3,0.988],
[7.7,1.003],[7.9,1.007],[8.1,1.002],[8.3,1.010],[8.5,1.013],[8.7,1.006],[8.9,1.003],[9.1,1.009],[9.3,1.030],[9.4,1.034],[9.5,1.028],[9.6,1.036],[9.7,1.011],[9.2,0.999],
[10.4,1.004],[10.7,1.008],[11.0,1.010],[11.3,1.014],[11.6,1.011],[11.9,1.017],[12.2,1.021],[12.5,1.019],[10.6,0.995],[11.4,1.001],
[12.8,1.028],[13.1,1.033],[13.4,1.036],[13.7,1.032],[14.0,1.035],[14.3,1.029],[14.6,1.025],
[14.9,1.021],[15.2,1.026],[15.5,1.030],[15.8,1.028],[16.1,1.033],[16.3,1.024],
[16.5,1.006],[16.8,1.001],[17.1,0.998],[17.4,1.003],[17.7,0.994],[18.0,0.999],[17.3,0.969],
[18.3,1.011],[18.6,1.008],[18.9,1.013],[19.2,1.010],[19.5,1.015],[19.8,1.009],[20.0,1.006],
[20.2,0.999],[20.5,0.996],[20.8,1.001],[21.1,0.993],[21.4,0.998],[21.7,0.995],
[22.2,1.020],[22.4,1.016],[22.6,1.012],[22.8,1.009],
[23.3,1.003],[23.6,0.997],[23.9,0.990],[24.2,0.985],[24.5,0.981],[24.7,0.979],
[24.9,1.010],[25.2,1.006],[25.5,1.008],[25.8,1.003],
[26.0,1.026],[26.2,1.022],[26.4,1.018],[26.6,1.015],[26.8,1.012],[27.0,1.009],[27.2,1.006],
[26.9,0.997],[27.2,0.993],[27.5,0.990],
[28.1,1.058],[28.3,1.055],[28.5,1.052],[28.7,1.048],[28.9,1.045],
[29.0,1.004],[29.3,1.000],[29.6,1.006],[29.9,1.002],[30.2,1.007],[30.4,1.003],
[31.2,0.985],[31.5,0.980],[31.8,0.975],[32.0,0.970],[32.2,0.964],[32.3,0.958],[32.4,0.949],[32.5,0.945],[32.6,0.970],[31.6,0.988],
[32.9,0.985],[33.2,0.990],[33.5,0.987],[33.8,0.993],[34.1,0.990],[34.4,0.996],[34.7,0.993],
[35.0,1.008],[35.2,1.013],[35.4,1.017],[35.6,1.005],[35.8,1.003],
[36.1,0.989],[36.4,0.984],[36.7,0.992],[37.0,0.987],[37.3,0.990],
[38.3,0.966],[38.6,0.962],[38.9,0.958],[39.2,0.960],[39.5,0.955],[39.8,0.951],[40.1,0.954],[40.4,0.949],[40.6,0.952],
[41.5,1.006],[41.7,0.995],[41.9,1.000],[42.2,0.990],[42.5,0.994],[42.8,0.986],[43.1,0.991],[43.4,0.998],[43.7,1.002],[44.0,0.995],[44.2,1.010],[44.4,1.017],[44.6,1.004],[44.9,0.993],[45.2,0.985],[45.4,0.979],[45.6,0.975],[45.1,0.970],
[47.3,0.983],[47.6,0.978],[47.9,0.987],[48.2,0.975],[48.5,0.982],
[48.7,1.002],[49.0,1.008],[49.3,1.013],[49.6,1.017],[49.9,1.014],[50.2,1.010],[50.5,1.015],[50.8,1.007],[51.1,1.003],[51.3,0.995],
[51.6,0.985],[51.9,0.980],[52.2,0.976],[52.5,0.983],[52.8,0.979],[53.1,0.986],[53.4,0.982],[53.7,0.988],[54.0,0.984],[54.3,0.990],[54.6,0.986],
[54.9,1.000],[55.2,1.004],[55.5,1.007],[55.8,1.005],[56.1,1.008],[56.4,1.006],[56.7,1.009],[57.0,1.007],[57.3,1.004],[57.6,1.008],[57.9,1.006],[58.2,1.003],[58.5,1.005],[58.8,1.001],[59.1,0.996],[59.3,0.988],[59.4,0.980],
[61.0,0.998],[61.3,0.993],[61.6,0.989],[61.9,0.995],[62.2,0.991],[62.5,0.997],[62.8,0.992],[63.1,0.988],
[63.7,1.004],[63.9,0.998],[64.1,0.990],[64.3,0.983],[64.5,0.975],[64.7,0.960],[64.8,0.945],[64.9,0.938],
[65.4,0.993],[65.7,0.985],[66.0,0.990],[66.3,0.980],[66.6,0.995],[66.9,1.003],[67.2,0.996],[67.5,0.988],[67.8,0.983],[68.1,0.978],[68.4,0.972],
[69.9,1.031],[70.0,1.027],[70.1,1.022],[70.2,1.017],
[69.7,0.975],[70.0,0.982],[70.3,0.990],[70.6,0.984],[70.9,0.978],[71.2,0.986],[71.5,0.981],[71.8,0.974],[72.1,0.970],
[71.6,1.007],[71.9,1.003],[72.2,0.999],
[73.2,0.982],[73.4,0.975],[73.6,0.968],[73.8,0.960],[74.0,0.955],[74.2,0.963],[74.4,0.950],[74.6,0.972],[74.8,0.945],[75.0,0.938],[75.2,0.930],[75.4,0.925],[75.6,0.921],[74.3,0.985],
[77.1,0.965],[77.3,0.958],
[77.8,0.995],[78.1,1.002],[78.4,0.998],[78.7,0.992],[79.0,0.996],[79.3,1.003],[79.6,0.999],[79.9,0.993],[80.2,0.997],[80.5,1.001],[80.8,0.995],[81.1,0.999],[81.4,0.993],[81.7,0.997],[82.0,1.001],[82.3,0.996],[82.6,0.992],[82.9,0.997],
[83.2,0.993],[83.5,0.987],[83.8,0.990],[84.0,0.980],[84.2,0.965],[84.3,0.950],[84.5,0.937],[84.7,0.962],[85.0,0.984],[85.3,0.978],[85.5,0.955],[85.6,0.940],[85.8,0.931],[86.0,0.975],[86.3,0.990],[86.6,0.985],[86.9,0.992],
[85.2,0.928],[86.2,0.937],
[87.1,0.995],[87.4,1.001],[87.7,1.007],[87.9,1.012],[88.1,1.015],[88.3,1.017],[88.5,1.010],
[88.8,0.990],[89.1,0.982],[89.4,0.987],[89.7,0.977],[90.0,0.984],[90.3,0.975],
[90.9,0.990],[91.2,0.995],[91.5,0.985],[91.7,1.008],[91.9,0.993],[92.2,0.980],
[92.5,0.993],[92.8,0.987],[93.1,0.991],[93.4,0.985],[93.7,0.989],[94.0,0.984],
[95.5,0.982],[95.8,0.975],[96.1,0.979],[96.4,0.970],[96.7,0.976],[97.0,0.968],[97.3,0.974],[97.6,0.980],[97.8,0.992],[98.1,0.972],[98.4,0.966],[96.0,0.965],
[98.7,0.958],[98.9,0.975],[99.1,0.950],[99.3,0.965],[99.5,0.942],[99.7,0.960],[99.9,0.985],[100.2,0.955],[100.4,0.947],[100.6,0.970],[99.3,0.928],
[101.5,0.923],
[103.0,0.962],[103.2,0.955],[103.4,0.968],[103.7,0.950],[104.0,0.958],[104.4,0.962],[105.0,0.955],[105.3,0.948],[105.7,0.962],
[106.0,0.972],[106.3,0.960],[106.6,0.968],[106.9,0.955],[107.2,0.975],[107.5,0.965],[107.8,0.983],[108.1,0.970],[108.3,0.960],
[111.0,0.980],[111.3,0.972],[111.6,0.975],[111.9,0.965],[112.2,0.970],[112.5,0.960],[112.8,0.975],[113.1,0.962],[113.4,0.968],[113.7,0.957],[114.0,0.965],[113.8,0.929],
[114.6,0.955],[114.9,0.962],[115.2,0.948],[115.5,0.958],[115.8,0.945],[116.1,0.952],[116.4,0.940],[116.7,0.950],
[117.8,0.927],
[119.5,0.978],[119.6,0.972],[119.7,0.985],[119.9,0.965],
[120.4,0.950],[120.8,0.944],[121.3,0.947],[121.7,0.938],[122.1,0.942],[122.4,0.935],[122.7,0.931],[123.0,0.940],[123.4,0.944],[123.7,0.934],
[124.0,0.973],[124.2,0.967],[124.4,0.962],[124.6,0.970],[124.8,0.935]
];

// f (Hz), H1 (red)
const f_H1 = [
[1.9,338],[2.2,340],[2.5,338],[2.8,339],[3.1,340],[3.4,338],
[4.3,336],[4.5,333],[4.7,331],[4.9,334],[5.1,329],[5.3,331],[4.4,343],
[6.0,338],[6.3,334],[6.6,340],[6.9,336],[7.2,333],[7.5,337],[7.8,334],[8.1,338],[8.4,335],[8.7,332],[8.2,346],[8.8,347],[9.3,345],[9.6,343],
[9.0,336],[9.3,333],[9.6,337],[9.9,334],[10.2,331],[10.5,336],[10.8,333],[11.1,335],[11.4,332],[11.7,336],[12.0,333],[12.3,331],[12.6,335],[12.9,332],[13.2,334],[13.5,331],[13.8,333],[14.1,330],[14.2,326],[11.0,344],[11.5,345],[12.5,342],[13.0,345],
[14.4,334],[14.7,332],[15.0,335],[15.3,333],[15.6,336],[15.9,334],[16.2,337],[16.5,335],[16.8,333],[17.1,336],[17.4,334],[17.7,337],[18.0,335],[16.0,341],[16.6,343],
[18.3,334],[18.6,331],[18.9,336],[19.0,328],[19.2,333],[19.5,330],[19.8,337],[18.7,347],[19.0,342],[18.9,327],
[20.0,336],[20.3,338],[20.6,335],[20.9,339],[21.2,336],[21.5,338],[21.8,334],[22.1,337],[22.4,335],[22.7,338],[20.3,348],[20.7,349],[21.2,346],[21.9,344],[22.5,341],
[23.8,338],[24.1,336],[24.4,337],[24.7,335],[25.0,336],[25.3,334],[25.6,336],[25.9,335],[26.2,337],[26.5,335],[26.8,336],[27.1,334],[27.4,336],[27.7,335],[28.0,337],[28.3,335],[28.6,336],[28.9,334],[29.2,336],[29.5,334],[29.8,333],[30.1,334],[30.4,332],[26.8,345],[27.9,349],[29.0,339],
[31.5,335],[31.8,336],[32.1,334],[32.4,336],[32.7,335],[33.0,337],[33.3,335],[33.6,336],[33.9,334],[34.2,336],[34.5,333],[34.8,335],[35.1,336],[35.4,334],[35.7,335],[36.0,333],[36.3,336],[36.6,334],[36.9,335],[33.2,341],[33.9,345],[34.8,343],[35.8,346],[36.4,344],
[37.2,336],[37.5,333],[37.8,335],[38.1,332],[38.4,336],[38.7,333],[39.0,335],[39.3,332],[39.6,334],[39.9,333],[40.2,335],[40.5,332],[37.4,342],[38.3,344],[39.2,343],
[41.6,340],[41.9,339],[42.2,341],[42.5,339],[42.8,342],[43.1,340],[43.4,338],[43.7,341],[44.0,339],[44.3,342],[44.6,340],[44.9,338],[45.2,341],[45.5,339],[43.0,344],[44.5,345],[46.5,338],
[47.4,340],[47.7,342],[48.0,339],[48.3,341],[48.6,339],[48.9,340],[49.2,338],[49.5,341],[49.8,339],[50.1,341],[50.4,338],[50.7,340],[47.6,344],[49.5,344],[51.6,339],
[53.0,340],[53.3,338],[53.6,341],[53.9,339],[54.2,337],[54.5,340],[54.8,338],[55.1,341],[55.4,337],[55.7,340],[56.0,336],[56.3,339],[56.6,341],[56.9,338],[57.2,340],[57.5,337],[57.8,341],[58.1,339],[58.4,336],[58.7,340],[59.0,338],[59.3,341],[59.6,339],[54.3,345],[55.6,347],[56.5,344],[57.4,346],[58.1,347],[59.2,345],[56.6,333],[59.5,334],
[60.9,341],[61.2,338],[61.5,342],[61.8,339],[62.1,337],[62.4,341],[62.7,338],[63.0,343],[63.3,340],[63.6,337],[63.9,341],[64.2,339],[61.4,345],[62.6,347],[63.2,353],[63.5,344],[64.0,345],[62.2,335],
[66.2,329],[66.3,326],[66.5,322],[67.1,327],[67.3,323],[67.5,320],[67.7,318],[67.9,317],
[70.3,339],[70.6,341],[70.9,338],[71.2,340],[71.5,337],[71.8,341],[72.1,338],[72.4,340],[72.7,337],[73.0,341],[73.3,339],[73.6,342],[73.9,340],[74.2,341],[74.5,343],[74.8,340],[75.1,342],[75.4,339],[71.0,344],[72.3,343],[74.0,346],[75.2,345],
[76.5,343],[76.8,345],[77.1,344],[77.4,346],[77.7,344],[78.0,345],[78.3,343],[78.6,345],[78.9,344],[79.2,346],[79.5,344],[79.8,345],[80.1,343],[80.4,344],[77.8,347],
[81.0,341],[81.3,338],[81.6,340],[81.9,337],[82.2,339],[82.5,336],[82.8,338],[83.1,335],[83.4,337],[83.7,334],[84.0,336],[84.3,338],[84.6,335],[84.9,337],[85.2,334],[85.5,336],[85.8,338],[86.1,335],[86.4,337],[86.7,339],[81.1,345],[82.9,343],[84.2,344],[86.0,343],
[87.8,339],[88.2,341],[88.6,340],[89.0,342],[89.4,340],[89.8,341],[90.2,339],[90.6,342],[91.0,340],[91.4,342],[88.9,345],[90.1,344],
[93.2,342],[93.5,344],[93.8,341],[94.1,343],[94.4,340],[94.7,338],[95.0,340],[95.3,337],[95.6,339],[95.9,336],[96.2,338],[96.5,337],[93.9,345],[95.4,344],
[97.0,333],[97.3,331],[97.6,329],[97.9,332],[98.2,330],[98.5,333],[98.8,331],[99.1,329],[99.4,332],[99.7,330],[100.0,333],[100.3,331],[100.6,333],[100.9,332],[101.2,334],[101.5,332],[101.8,333],[102.1,332],[97.5,336],[98.3,338],[99.0,340],[100.0,339],[101.0,338],[97.8,327],
[102.5,339],[102.8,337],[103.1,340],[103.4,338],[103.7,336],[104.0,339],[104.3,337],[104.6,338],[103.0,342],
[105.7,339],[105.9,335],[106.1,331],[106.3,336],[106.5,333],[106.7,329],[106.9,334],[107.1,330],[107.3,336],[107.5,338],[105.8,343],
[107.8,336],[108.1,333],[108.4,335],[108.7,332],[109.0,334],[109.3,331],[109.6,335],[109.9,332],[110.2,334],[110.5,331],[110.8,333],[111.0,328],[111.1,324],[111.2,320],[111.3,317],[111.5,327],[108.4,345],[109.9,341],[110.9,343],
[111.8,333],[112.1,336],[112.4,331],[112.7,337],[112.9,326],[113.0,334],[113.3,338],[113.6,332],[113.9,336],[114.2,331],[114.5,338],[114.8,334],[115.1,339],[115.4,333],[115.7,337],[116.0,335],[116.3,339],[116.6,334],[116.9,338],[117.2,336],[117.5,340],[112.3,344],[113.5,345],[114.3,342],[115.1,344],[116.0,343],[116.5,348],[117.2,345],[114.0,328],
[117.9,339],[118.2,337],[118.5,341],[118.8,338],[119.1,335],[119.4,339],[119.7,336],[120.0,340],[120.3,337],[120.6,338],[118.4,346],[119.6,345],[120.5,343],
[121.0,333],[121.3,331],[121.6,334],[121.9,330],[122.2,332],[122.5,329],[122.8,331],[123.1,333],[123.4,330],[123.7,332],[124.0,334],[124.3,331],[124.6,335],[124.8,332],[122.0,336],[123.0,338],[124.4,339],
[6.1,335],[6.5,337],[6.8,333],[7.1,336],[7.4,334],[7.7,336],[8.0,333],[8.3,336],[8.6,334],[8.9,335],[9.2,334],[9.5,335],[9.8,333],[10.1,335],[10.4,333],[10.7,335],[11.0,333],[11.3,334],[11.6,333],[11.9,335],[12.2,334],[12.5,333],[12.8,334],[13.1,332],[13.4,333],[13.7,332],[14.0,333],[14.3,333],[14.6,334],[14.9,333],[15.2,334],[15.5,335],[15.8,335],[16.1,335],[16.4,336],[16.7,335],[17.0,335],[17.3,335],[17.6,336],[17.9,335],[18.2,335],[18.5,334],[18.8,333],[19.1,334],[19.4,334],[19.7,335],
[20.1,337],[20.4,336],[20.7,337],[21.0,337],[21.3,337],[21.6,336],[21.9,336],[22.2,336],[22.5,336],
[24.0,337],[24.6,336],[25.2,335],[25.8,336],[26.4,336],[27.0,335],[27.6,336],[28.2,336],[28.8,335],[29.4,335],[30.0,334],
[31.6,336],[32.2,335],[32.8,336],[33.4,336],[34.0,335],[34.6,335],[35.2,335],[35.8,334],[36.4,335],[37.0,334],[37.6,334],[38.2,334],[38.8,334],[39.4,333],[40.0,334],[40.4,333],
[41.7,341],[42.3,340],[42.9,340],[43.5,340],[44.1,340],[44.7,341],[45.3,340],
[47.5,341],[48.1,340],[48.7,340],[49.3,340],[49.9,340],[50.5,340],
[53.2,339],[53.8,340],[54.4,339],[55.0,339],[55.6,339],[56.2,339],[56.8,339],[57.4,339],[58.0,340],[58.6,339],[59.2,339],
[61.1,340],[61.7,340],[62.3,339],[62.9,340],[63.5,339],[64.1,340],
[70.5,340],[71.1,339],[71.7,339],[72.3,339],[72.9,339],[73.5,340],[74.1,340],[74.7,341],[75.3,341],
[76.6,344],[77.2,345],[77.8,344],[78.4,344],[79.0,345],[79.6,345],[80.2,344],
[81.2,339],[81.8,338],[82.4,337],[83.0,336],[83.6,336],[84.2,336],[84.8,336],[85.4,335],[86.0,336],[86.6,338],
[88.0,340],[88.8,341],[89.6,341],[90.4,340],[91.2,341],
[93.4,343],[94.0,342],[94.6,340],[95.2,339],[95.8,338],[96.4,338],
[97.2,331],[97.8,331],[98.4,331],[99.0,331],[99.6,331],[100.2,332],[100.8,332],[101.4,333],[102.0,333],
[102.7,338],[103.3,339],[103.9,338],[104.5,338],
[108.0,334],[108.6,333],[109.2,333],[109.8,333],[110.4,333],
[112.0,334],[112.6,335],[113.2,336],[113.8,334],[114.4,335],[115.0,336],[115.6,335],[116.2,337],[116.8,336],[117.4,338],
[121.1,332],[121.7,331],[122.3,331],[122.9,332],[123.5,331],[124.1,332]
];

// f (Hz), L1 (green)
const f_L1 = [
[2.1,389],[2.3,386],[2.5,384],[2.7,388],[2.6,370],
[3.5,387],[4.0,388],[4.4,389],[4.8,386],[5.0,382],[5.3,388],[5.7,387],[6.0,389],[6.3,386],
[7.8,388],[8.1,390],[8.4,386],[8.7,388],[9.0,384],[9.3,387],[9.5,381],[9.7,389],
[10.6,392],[10.9,389],[11.2,391],[11.5,388],[11.8,390],[12.1,387],[12.4,389],[12.7,386],[13.0,388],[13.3,385],[13.6,388],[13.9,386],[14.2,387],[14.5,385],[14.8,388],[15.1,386],[15.4,388],[15.7,385],[13.8,379],
[16.0,389],[16.3,387],[16.6,390],[16.9,388],[17.2,386],[17.5,389],[17.8,387],[18.1,384],[18.4,388],[18.7,386],[19.0,389],[19.3,387],[19.6,390],[19.9,388],[20.2,386],[20.5,389],[20.8,387],[21.1,384],[21.4,388],[21.7,386],[17.5,383],[18.9,382],[20.2,383],
[21.9,382],[22.1,379],[22.3,376],[22.5,374],[22.7,378],[22.0,375],
[23.2,379],[23.4,376],[23.6,381],[23.9,378],[24.2,383],[24.5,380],[24.7,384],
[24.9,386],[25.2,388],[25.5,385],[25.8,387],[26.1,389],[26.4,386],[26.7,388],[27.0,385],
[27.3,389],[27.6,390],[27.9,388],[28.2,391],[28.5,389],[28.8,390],[29.1,388],[29.4,391],[29.7,389],[30.0,390],[30.3,388],[30.6,389],[30.9,387],[28.4,384],
[31.3,388],[31.6,386],[31.9,389],[32.2,387],[32.5,385],[32.8,388],[33.1,386],[33.4,389],[33.7,387],[34.0,385],[34.3,388],[34.6,386],[34.9,389],[35.2,387],[35.5,385],[35.8,388],[36.1,386],[36.4,389],[36.7,387],[37.0,385],[32.4,382],[33.3,383],[35.4,382],
[38.7,388],[39.0,385],[39.3,389],[39.6,386],[39.9,383],[40.2,387],[40.5,384],[39.8,380],
[41.2,387],[41.5,384],[41.8,388],[42.1,385],[42.4,382],[42.7,388],[43.0,386],[43.3,383],[43.6,387],[43.9,385],[44.2,382],[44.5,387],[44.8,384],[45.1,386],[45.4,383],[45.6,386],[41.7,376],
[47.4,384],[47.7,387],[48.0,388],[48.3,386],[48.6,389],[48.9,387],[49.2,388],[49.5,386],[49.8,389],[50.1,387],[50.4,385],[50.7,388],[51.0,386],[51.3,384],[51.6,383],[47.3,376],
[51.9,382],[52.2,380],[52.5,383],[52.8,381],[53.1,384],[53.4,386],[53.7,385],[54.0,387],[54.3,386],[54.6,388],
[54.9,389],[55.2,388],[55.5,390],[55.8,388],[56.1,389],[56.4,387],[56.7,388],[57.0,386],[57.3,388],[57.6,387],[57.9,385],[58.2,388],[58.5,386],[58.8,384],[59.0,382],
[60.5,386],[60.8,388],[61.1,390],[61.4,389],[61.7,387],[62.0,389],[62.3,387],[62.6,385],[62.9,388],[63.2,386],[63.5,388],[63.8,385],
[64.2,386],[64.5,383],[64.8,380],[65.1,384],[65.4,386],[65.7,383],[66.0,387],[66.3,385],[66.6,388],[66.9,386],[67.2,389],[67.5,387],[67.8,385],[68.1,386],[65.0,378],
[69.7,383],[69.9,379],[70.1,385],[70.4,387],[70.7,385],[71.0,388],[71.3,386],[71.6,384],[71.9,387],[72.2,389],[72.5,387],[72.8,385],[73.1,388],[73.4,386],[73.7,389],[74.0,387],[74.3,385],[74.6,388],[74.9,386],[75.2,383],[75.5,381],[75.8,379],
[76.5,382],[76.8,379],[77.1,381],[77.4,378],[77.7,380],[78.0,377],[78.3,380],[78.6,378],[78.9,381],[79.2,379],[79.5,382],[79.8,380],[80.1,383],[80.4,381],[80.7,384],[81.0,382],[81.3,385],[81.6,383],[81.9,386],[82.2,384],[82.5,386],[82.8,385],[83.1,386],[83.4,384],[83.7,386],[84.0,385],[84.3,383],
[84.6,384],[84.9,381],[85.2,383],[85.5,380],[85.8,378],[86.1,382],[86.4,379],[86.7,377],[87.0,381],[87.3,378],[87.6,376],[87.9,380],[88.2,383],[88.5,381],[85.6,375],[86.5,374],[87.5,373],
[88.8,384],[89.1,382],[89.4,385],[89.7,383],[90.0,386],[90.3,384],[90.6,382],[90.9,385],[91.2,383],[91.5,386],[91.8,384],[92.1,382],[92.4,385],[92.7,383],[93.0,386],[93.3,384],[93.6,385],[93.9,383],[94.2,384],
[95.9,380],[96.2,383],[96.5,381],[96.8,384],[97.1,382],[97.4,385],[97.7,383],[98.0,386],[98.3,384],[98.6,387],[98.9,385],[99.2,388],[99.5,386],[99.8,388],[100.1,386],[100.4,385],[96.0,378],[97.0,379],
[101.5,385],
[102.9,384],[103.2,386],[103.5,383],[103.8,385],
[105.4,385],[105.6,383],[105.9,387],[106.2,389],[106.5,386],[106.8,388],[107.1,385],[107.4,387],[107.7,384],[108.0,386],[108.3,383],
[111.0,383],[111.3,385],[111.6,383],[112.2,384],[112.5,386],[112.8,385],[113.1,387],[113.4,386],[113.7,388],[114.0,387],[114.3,389],[114.6,388],[115.2,387],[115.5,385],[115.8,388],[116.4,386],[116.7,384],
[124.1,389],[124.3,388],[124.5,389],[124.7,388]
];

// ---------------- RENDERING ----------------
const RED = '#ff0000', GREEN = '#008000';
const TXT = '#262626';
const TICK_FONT = {family: "'Liberation Sans', Arial, Helvetica, sans-serif", size: 25};
const SERIF = "'DejaVu Serif', 'Liberation Serif', serif";

function pts(a) { return a.map(p => ({x: p[0], y: p[1]})); }

const framePlugin = {
  id: 'frame',
  afterDatasetsDraw(chart) {
    const {ctx, chartArea: a, scales: {x, y}} = chart;
    ctx.save();
    ctx.strokeStyle = '#5f5f5f';
    ctx.lineWidth = 1.5;
    ctx.beginPath();
    x.ticks.forEach(t => {
      const p = Math.round(x.getPixelForValue(t.value)) + 0.5;
      ctx.moveTo(p, a.bottom); ctx.lineTo(p, a.bottom - 11);
      ctx.moveTo(p, a.top); ctx.lineTo(p, a.top + 11);
    });
    y.ticks.forEach(t => {
      const p = Math.round(y.getPixelForValue(t.value)) + 0.5;
      ctx.moveTo(a.left, p); ctx.lineTo(a.left + 11, p);
      ctx.moveTo(a.right, p); ctx.lineTo(a.right - 11, p);
    });
    ctx.stroke();
    ctx.lineWidth = 2;
    ctx.strokeRect(a.left, a.top, a.right - a.left, a.bottom - a.top);
    ctx.restore();
  }
};

function yTitlePlugin(parts, baseX) {
  return {
    id: 'ytitle',
    afterDraw(chart) {
      const {ctx, chartArea: a} = chart;
      const cy = (a.top + a.bottom) / 2;
      ctx.save();
      ctx.fillStyle = TXT;
      ctx.textAlign = 'left';
      ctx.textBaseline = 'alphabetic';
      let w = 0;
      parts.forEach(p => { ctx.font = p.font; p.w = ctx.measureText(p.t).width; w += p.w; });
      ctx.translate(baseX, cy);
      ctx.rotate(-Math.PI / 2);
      let u = -w / 2;
      parts.forEach(p => { ctx.font = p.font; ctx.fillText(p.t, u, p.dy); u += p.w; });
      ctx.restore();
    }
  };
}

const xTitlePlugin = {
  id: 'xtitle',
  afterDraw(chart) {
    const {ctx, chartArea: a} = chart;
    ctx.save();
    let size = 24;
    ctx.font = `bold ${size}px ${SERIF}`;
    const w = ctx.measureText(X_TITLE).width;
    size = size * 457 / w;
    ctx.font = `bold ${size.toFixed(2)}px ${SERIF}`;
    ctx.fillStyle = TXT;
    ctx.textAlign = 'center';
    ctx.textBaseline = 'middle';
    ctx.fillText(X_TITLE, (a.left + a.right) / 2, a.bottom + 47);
    ctx.restore();
  }
};

const legendPlugin = {
  id: 'legendbox',
  afterDraw(chart) {
    const {ctx, chartArea: a} = chart;
    const bx = a.right - 107, by = a.top + 13, bw = 91, bh = 70;
    ctx.save();
    ctx.fillStyle = '#ffffff';
    ctx.fillRect(bx, by, bw, bh);
    ctx.strokeStyle = '#6a6a6a';
    ctx.lineWidth = 2;
    ctx.strokeRect(bx, by, bw, bh);
    chart.data.datasets.forEach((ds, i) => {
      const cy = by + 19 + 30 * i;
      ctx.fillStyle = ds.backgroundColor;
      ctx.beginPath(); ctx.arc(bx + 31, cy, 1.8, 0, Math.PI * 2); ctx.fill();
      ctx.fillStyle = TXT;
      ctx.font = `21px ${SERIF}`;
      ctx.textBaseline = 'middle';
      ctx.textAlign = 'left';
      ctx.fillText(ds.label, bx + 56, cy + 1);
    });
    ctx.restore();
  }
};

function panel(id, cfg) {
  const ds = (label, data, color, order) => ({
    label, data: pts(data), backgroundColor: color, borderWidth: 0,
    pointRadius: 2.3, pointHoverRadius: 2.3, pointBorderWidth: 0, order
  });
  return new Chart(document.getElementById(id), {
    type: 'scatter',
    data: {datasets: [ds(seriesNames[0], cfg.h1, RED, 1), ds(seriesNames[1], cfg.l1, GREEN, 0)]},
    options: {
      responsive: false, animation: false, devicePixelRatio: 1, events: [],
      layout: {padding: {top: cfg.padTop, right: 9, left: 0, bottom: 0}},
      plugins: {legend: {display: false}, tooltip: {enabled: false}, title: {display: false}},
      scales: {
        x: {
          type: 'linear', min: 0, max: 130,
          afterBuildTicks: s => { s.ticks = xTickVals.map(v => ({value: v})); },
          afterFit: s => { s.height = cfg.xH; s.paddingLeft = 0; s.paddingRight = 0; },
          ticks: {font: TICK_FONT, color: TXT, padding: 5, maxRotation: 0, autoSkip: false,
                  callback: (v, i) => xTickLabels[i]},
          grid: {color: '#e2e2e2', lineWidth: 1, drawTicks: false},
          border: {display: false}
        },
        y: {
          type: 'linear', min: cfg.yMin, max: cfg.yMax,
          afterBuildTicks: s => { s.ticks = cfg.yTicks.map(v => ({value: v})); },
          afterFit: s => { s.width = 95; s.paddingTop = 0; s.paddingBottom = 0; },
          ticks: {font: TICK_FONT, color: TXT, padding: 4, autoSkip: false,
                  callback: (v, i) => cfg.yLabels[i]},
          grid: {color: '#e2e2e2', lineWidth: 1, drawTicks: false},
          border: {display: false}
        }
      }
    },
    plugins: [framePlugin, yTitlePlugin(cfg.title, cfg.titleX)].concat(cfg.extra || [])
  });
}

panel('c1', {h1: kT_H1, l1: kT_L1, padTop: 3, xH: 43, yMin: 0.981, yMax: 1.121,
  yTicks: kT_ticks, yLabels: kT_labels, titleX: 26,
  title: [{t: 'κ', font: `italic 27px ${SERIF}`, dy: 0}, {t: 'T', font: `16px ${SERIF}`, dy: 2}]});
panel('c2', {h1: kPU_H1, l1: kPU_L1, padTop: 11, xH: 44, yMin: 0.96, yMax: 1.04,
  yTicks: kPU_ticks, yLabels: kPU_labels, titleX: 26,
  title: [{t: 'κ', font: `italic 27px ${SERIF}`, dy: 0}, {t: 'PU', font: `16px ${SERIF}`, dy: 2}]});
panel('c3', {h1: kC_H1, l1: kC_L1, padTop: 9, xH: 41, yMin: 0.92, yMax: 1.059,
  yTicks: kC_ticks, yLabels: kC_labels, titleX: 26,
  title: [{t: 'κ', font: `italic 27px ${SERIF}`, dy: 0}, {t: 'C', font: `italic 16px ${SERIF}`, dy: 2}]});
panel('c4', {h1: f_H1, l1: f_L1, padTop: 12, xH: 63, yMin: 315.3, yMax: 394.6,
  yTicks: f_ticks, yLabels: f_labels, titleX: 30,
  title: [{t: 'f', font: `italic 25px ${SERIF}`, dy: 0}, {t: ' (Hz)', font: `24px ${SERIF}`, dy: 0}],
  extra: [legendPlugin, xTitlePlugin]});
</script>
</body></html>
